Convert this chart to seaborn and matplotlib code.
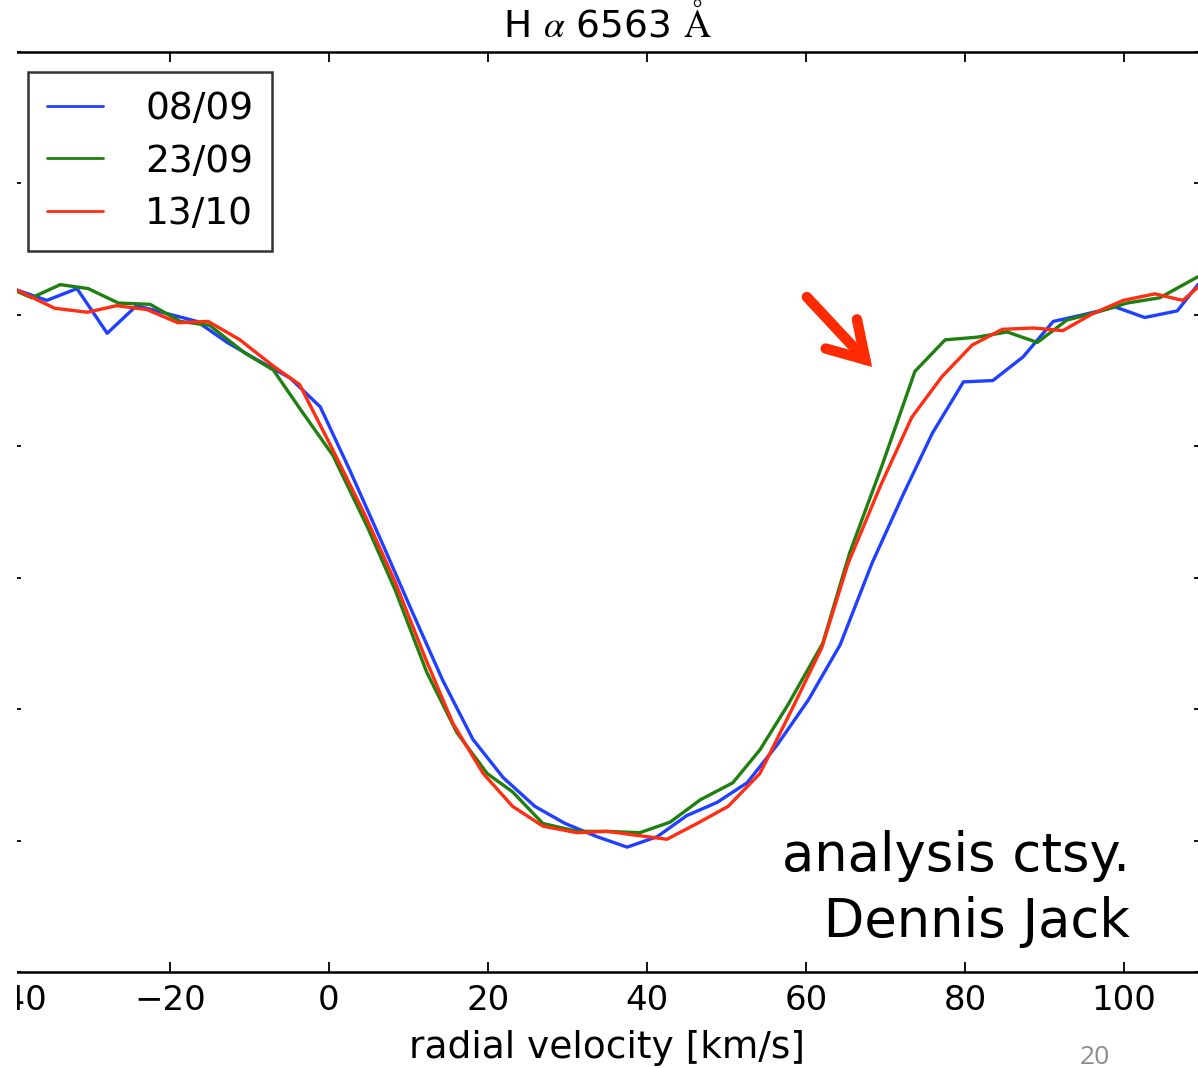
import numpy as np
import pandas as pd
import matplotlib
matplotlib.use("Agg")
import matplotlib.pyplot as plt
from matplotlib.patches import Rectangle, FancyArrowPatch
from matplotlib.lines import Line2D
import seaborn as sns

# ---------------- data ----------------
labels = ["08/09", "23/09", "13/10"]
colors = ["#2040ff", "#1f8010", "#ff2d12"]

v_0809 = [-39.3, -35.5, -31.7, -27.9, -24.2, -20.4, -16.6, -12.8, -9.1, -4.9,
          -1.1, 2.6, 6.5, 10.4, 14.3, 18.1, 21.9, 25.9, 29.7, 33.7,
          37.5, 41.3, 45.0, 48.8, 52.6, 56.4, 60.3, 64.3, 68.3, 72.2,
          75.9, 79.8, 83.5, 87.3, 91.1, 94.8, 98.9, 102.6, 106.7, 109.3]
f_0809 = [1.019, 1.011, 1.020, 0.986, 1.007, 1.001, 0.995, 0.979, 0.966, 0.952,
          0.930, 0.882, 0.829, 0.775, 0.722, 0.677, 0.648, 0.626, 0.613, 0.603,
          0.595, 0.603, 0.619, 0.629, 0.644, 0.673, 0.707, 0.749, 0.811, 0.863,
          0.910, 0.949, 0.950, 0.968, 0.995, 1.000, 1.006, 0.998, 1.003, 1.023]

v_2309 = [-39.3, -37.4, -33.8, -30.3, -26.5, -22.5, -18.7, -15.0, -10.6, -7.0,
          -3.7, 0.5, 4.8, 8.3, 12.3, 16.1, 19.9, 23.1, 26.9, 31.2,
          35.0, 39.1, 42.9, 46.7, 50.8, 54.2, 57.7, 62.1, 65.5, 69.6,
          73.7, 77.5, 81.5, 85.3, 89.1, 92.8, 96.6, 100.4, 104.5, 109.3]
f_2309 = [1.018, 1.013, 1.023, 1.020, 1.009, 1.008, 0.995, 0.992, 0.971, 0.958,
          0.929, 0.893, 0.839, 0.791, 0.728, 0.682, 0.651, 0.637, 0.613, 0.607,
          0.607, 0.606, 0.614, 0.631, 0.644, 0.669, 0.703, 0.750, 0.819, 0.886,
          0.957, 0.981, 0.983, 0.987, 0.979, 0.996, 1.002, 1.009, 1.013, 1.029]

v_1310 = [-39.3, -34.5, -30.4, -26.7, -22.9, -19.0, -15.2, -11.2, -7.0, -3.7,
          0.5, 4.5, 8.3, 12.1, 15.6, 19.4, 23.1, 26.9, 31.2, 35.0,
          38.7, 42.5, 46.3, 50.2, 54.2, 58.4, 62.0, 65.3, 69.3, 73.3,
          77.1, 80.9, 84.7, 88.6, 92.3, 96.1, 99.9, 103.9, 107.4, 109.3]
f_1310 = [1.019, 1.005, 1.002, 1.007, 1.004, 0.994, 0.995, 0.981, 0.961, 0.947,
          0.897, 0.848, 0.797, 0.739, 0.689, 0.651, 0.626, 0.611, 0.606, 0.607,
          0.604, 0.601, 0.613, 0.626, 0.651, 0.702, 0.747, 0.811, 0.869, 0.922,
          0.953, 0.977, 0.989, 0.990, 0.988, 1.001, 1.011, 1.016, 1.011, 1.021]

x_ticks = [-40, -20, 0, 20, 40, 60, 80, 100]
y_ticks = [0.5, 0.6, 0.7, 0.8, 0.9, 1.0, 1.1, 1.2]

title = "H $\\alpha$ 6563 $\\mathrm{\u00c5}$"
xlabel = "radial velocity [km/s]"
credit = "analysis ctsy.\n Dennis Jack"
slide_no = "20"

# ---------------- build long-form table ----------------
frames = []
for lab, v, f in zip(labels, [v_0809, v_2309, v_1310], [f_0809, f_2309, f_1310]):
    frames.append(pd.DataFrame({"v": v, "flux": f, "date": lab}))
df = pd.concat(frames, ignore_index=True)

# ---------------- style ----------------
sns.set_theme(style="ticks")
plt.rcParams["font.family"] = ["DejaVu Sans"]
plt.rcParams["mathtext.fontset"] = "stix"

W, H = 1198, 1068
fig = plt.figure(figsize=(W / 100, H / 100), dpi=100)
fig.patch.set_facecolor("white")

ax_left, ax_right, ax_top, ax_bot = 11, 1203.5, 52, 972
ax = fig.add_axes([ax_left / W, (H - ax_bot) / H, (ax_right - ax_left) / W, (ax_bot - ax_top) / H])
ax.set_facecolor("white")

sns.lineplot(data=df, x="v", y="flux", hue="date", hue_order=labels,
             palette=colors, estimator=None, sort=False, lw=2.4, ax=ax, legend=False)

ax.set_xlim(-40, 110)
ax.set_ylim(0.5, 1.2)
ax.set_xticks(x_ticks)
ax.set_xticklabels([f"\u2212{abs(t)}" if t < 0 else str(t) for t in x_ticks])
ax.set_yticks(y_ticks)
ax.set_yticklabels([])
ax.tick_params(axis="both", direction="in", length=7, width=1.3, color="black",
               top=True, right=True, left=True, bottom=True)
ax.tick_params(axis="x", labelsize=24.5, pad=9, labelcolor="black")
for s in ax.spines.values():
    s.set_linewidth(1.8)
    s.set_color("black")

ax.set_title(title, fontsize=27, pad=11, color="black")
ax.set_xlabel(xlabel, fontsize=27, labelpad=9, color="black")
ax.set_ylabel("")

# legend
handles = [Line2D([], [], color=c, lw=2.0) for c in colors]
leg = fig.legend(handles, labels, loc="upper left",
                 bbox_to_anchor=(28 / W, 1 - 72 / H), bbox_transform=fig.transFigure,
                 fontsize=27, frameon=True, fancybox=False, borderaxespad=0,
                 handlelength=1.5, handletextpad=1.12, labelspacing=0.45,
                 borderpad=0.5)
leg.get_frame().set_edgecolor("black")
leg.get_frame().set_linewidth(1.8)
for t in leg.get_texts():
    t.set_color("black")

# credit text
fig.text(1130 / W, 1 - 937 / H, credit, ha="right", va="baseline", multialignment="right",
         fontsize=38, color="black", linespacing=1.33)

# slide number
fig.text(1095 / W, 1 - 1057 / H, slide_no, ha="center", va="center",
         fontsize=19, color="#8c8c8c", family=["Open Sans", "DejaVu Sans"])

# red arrow
arrow = FancyArrowPatch((805 / W, 1 - 295 / H), (874 / W, 1 - 369 / H),
                        transform=fig.transFigure, arrowstyle="->,head_length=1.15,head_width=0.7",
                        mutation_scale=22, lw=7.5, color="#ff2a00", capstyle="round", joinstyle="miter")
fig.patches.append(arrow)

# cropped left margin of the slide
fig.patches.append(Rectangle((0, 0), 17 / W, 1, transform=fig.transFigure,
                             facecolor="white", edgecolor="none", zorder=20))

fig.savefig("out.png", dpi=100, facecolor="white")
